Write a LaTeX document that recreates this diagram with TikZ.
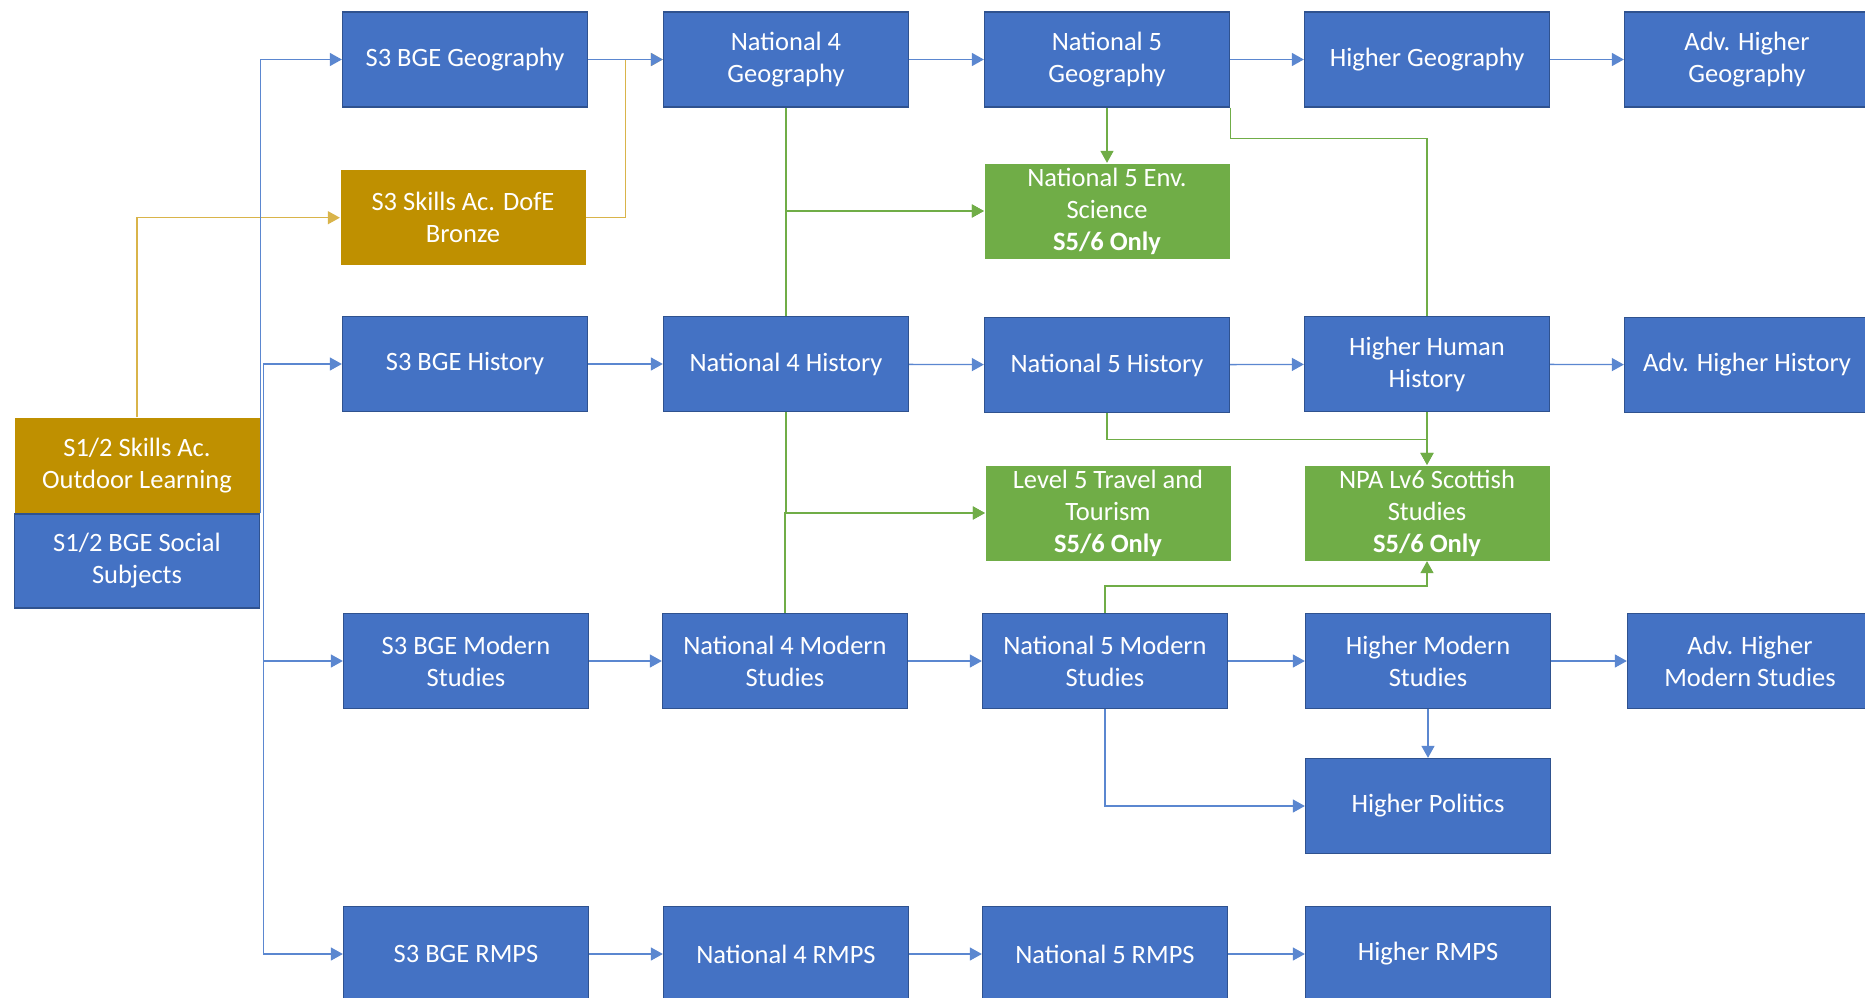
\documentclass[tikz,border=0pt]{standalone}
\usepackage{fontspec}
\setmainfont{Carlito}
\usetikzlibrary{arrows.meta}
\pgfdeclarelayer{bg}
\pgfsetlayers{bg,main}
\definecolor{boxblue}{HTML}{4472C4}
\definecolor{edgeblue}{HTML}{2F528F}
\definecolor{boxgold}{HTML}{BF9000}
\definecolor{boxgreen}{HTML}{70AD47}
\definecolor{lineblue}{HTML}{5B87D0}
\definecolor{linegold}{HTML}{D9B44A}
\tikzset{%
  course/.style    = {shape=rectangle, draw=edgeblue, line width=1.3pt,%
                      fill=boxblue, text=white, align=center,%
                      minimum width=245pt, minimum height=95pt, inner sep=0pt,%
                      font=\fontsize{26.5}{32}\selectfont},%
  skills/.style    = {course, draw=none, fill=boxgold},%
  extra/.style     = {course, draw=none, fill=boxgreen},%
  bluelink/.style  = {draw=lineblue, line width=1.3pt, -{Triangle[length=12pt,width=13pt]}},%
  goldlink/.style  = {bluelink, draw=linegold},%
  greenlink/.style = {bluelink, draw=boxgreen}%
}

\begin{document}
\begin{tikzpicture}[x=1pt, y=-1pt]
  \useasboundingbox (0,0) rectangle (1865,998);
  % first years
  \node[skills] (outdoor) at (137,465.6) {S1/2 Skills Ac.\\Outdoor Learning};
  \node[course, minimum height=94pt] (social) at (137,561) {S1/2 BGE Social\\Subjects};
  % S3
  \node[course] (s3geo)  at (465,59.5) {S3 BGE Geography};
  \node[skills] (dofe)   at (463,217.7) {S3 Skills Ac. DofE\\Bronze};
  \node[course] (s3hist) at (465,364) {S3 BGE History};
  \node[course] (s3mod)  at (466,661) {S3 BGE Modern\\Studies};
  \node[course] (s3rmps) at (466,954) {S3 BGE RMPS};
  % National 4
  \node[course] (n4geo)  at (786,59.5) {National 4\\Geography};
  \node[course] (n4hist) at (786,364) {National 4 History};
  \node[course] (n4mod)  at (785,661) {National 4 Modern\\Studies};
  \node[course] (n4rmps) at (786,954) {National 4 RMPS};
  % National 5
  \node[course] (n5geo)  at (1107,59.5) {National 5\\Geography};
  \node[extra]  (envsci) at (1107,211) {National 5 Env.\\Science\\\textbf{S5/6 Only}};
  \node[course] (n5hist) at (1107,365) {National 5 History};
  \node[extra]  (travel) at (1108,513) {Level 5 Travel and\\Tourism\\\textbf{S5/6 Only}};
  \node[course] (n5mod)  at (1105,661) {National 5 Modern\\Studies};
  \node[course] (n5rmps) at (1105,954) {National 5 RMPS};
  % Higher
  \node[course] (hgeo)   at (1427,59.5) {Higher Geography};
  \node[course] (hhist)  at (1427,364) {Higher Human\\History};
  \node[extra]  (npa)    at (1427,513) {NPA Lv6 Scottish\\Studies\\\textbf{S5/6 Only}};
  \node[course] (hmod)   at (1428,661) {Higher Modern\\Studies};
  \node[course] (hpol)   at (1428,806) {Higher Politics};
  \node[course] (hrmps)  at (1428,954) {Higher RMPS};
  % Advanced Higher
  \node[course] (ahgeo)  at (1747,59.5) {Adv. Higher\\Geography};
  \node[course] (ahhist) at (1747,365) {Adv. Higher History};
  \node[course] (ahmod)  at (1750,661) {Adv. Higher\\Modern Studies};

  \begin{pgfonlayer}{bg}
    \fill[white] (0,0) rectangle (1865,998);
    % skills academy
    \draw[goldlink] (outdoor.north) |- (dofe.west);
    \draw[goldlink] (dofe.east) -- ++(39,0) |- (n4geo.west);
    % from S1/2
    \draw[bluelink] (social.north east) |- (s3geo.west);
    \draw[bluelink] ([xshift=3pt]social.north east) |- (s3hist.west);
    \draw[bluelink] ([xshift=3pt]social.north east) |- (s3mod.west);
    \draw[bluelink] ([xshift=3pt]social.north east) |- (s3rmps.west);
    % rows
    \draw[bluelink] (s3geo) -- (n4geo);
    \draw[bluelink] (n4geo) -- (n5geo);
    \draw[bluelink] (n5geo) -- (hgeo);
    \draw[bluelink] (hgeo) -- (ahgeo);
    \draw[bluelink] (s3hist) -- (n4hist);
    \draw[bluelink] (n4hist) -- (n5hist);
    \draw[bluelink] (n5hist) -- (hhist);
    \draw[bluelink] (hhist) -- (ahhist);
    \draw[bluelink] (s3mod) -- (n4mod);
    \draw[bluelink] (n4mod) -- (n5mod);
    \draw[bluelink] (n5mod) -- (hmod);
    \draw[bluelink] (hmod) -- (ahmod);
    \draw[bluelink] (s3rmps) -- (n4rmps);
    \draw[bluelink] (n4rmps) -- (n5rmps);
    \draw[bluelink] (n5rmps) -- (hrmps);
    \draw[bluelink] (hmod) -- (hpol);
    \draw[bluelink] (n5mod.south) |- (hpol.west);
    % S5/6 options
    \draw[greenlink] (n4geo.south) |- (envsci.west);
    \draw[greenlink] (n4hist.north) |- (envsci.west);
    \draw[greenlink] (n5geo.south) -- (envsci.north);
    \draw[greenlink] (n5geo.south east) -- ++(0,31) -| (npa.north);
    \draw[greenlink] (n5hist.south) -- ++(0,26) -| (npa.north);
    \draw[greenlink] (n4hist.south) |- (travel.west);
    \draw[greenlink] (n4mod.north) |- (travel.west);
    \draw[greenlink] (n5mod.north) -- ++(0,-27) -| (npa.south);
  \end{pgfonlayer}
\end{tikzpicture}
\end{document}
